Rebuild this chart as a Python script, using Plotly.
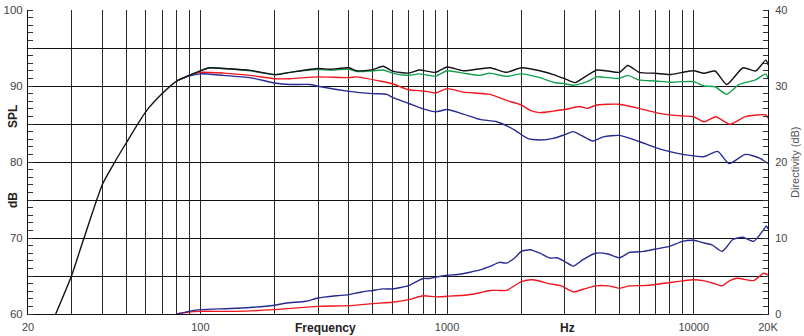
import plotly.graph_objects as go

# ---- data ----
f_on = [25.9, 30, 33.5, 40, 43.7, 50, 60, 70, 80, 90, 100, 109, 124, 159, 200, 231, 300, 335, 400, 430, 500,
        551, 600, 700, 770, 900, 1000, 1163, 1492, 1742, 2000, 2379, 2693, 3000, 3300, 3700, 4050, 4490, 5000,
        5400, 6000, 7000, 8000, 9000, 10000, 11000, 12200, 13600, 15850, 17800, 19600, 20000]
spl_on = [60, 65, 69.7, 77.0, 79.3, 82.5, 86.6, 89.0, 90.65, 91.4, 92.0, 92.4, 92.3, 92.06, 91.5, 91.8, 92.3,
          92.2, 92.4, 92.0, 92.15, 92.6, 91.96, 91.7, 92.1, 91.8, 92.5, 92.0, 92.4, 91.8, 92.4, 92.0, 91.5, 90.96,
          90.45, 91.4, 92.1, 91.97, 91.8, 92.7, 91.8, 91.67, 91.5, 91.8, 92.0, 91.67, 91.97, 90.2, 92.4, 91.97,
          93.4, 92.8]

f_green = [80, 90, 100, 109, 124, 159, 200, 231, 300, 335, 400, 430, 500, 551, 600, 700, 770, 900, 1000, 1163, 1360,
           1492, 1742, 2000, 2379, 2693, 3000, 3250, 3700, 4050, 4490, 5000, 5400, 6000, 7000, 8000, 9000, 10000,
           11000, 12200, 13600, 15300, 17800, 19600, 20000]
spl_green = [90.65, 91.4, 92.0, 92.4, 92.3, 92.0, 91.5, 91.8, 92.15, 92.1, 92.2, 91.9, 92.0, 92.1, 91.7, 91.4, 91.6,
             91.3, 92.0, 91.7, 91.4, 91.7, 91.26, 91.6, 91.1, 90.5, 90.3, 90.1, 90.57, 91.2, 91.1, 91.0, 91.4, 90.8,
             90.66, 90.5, 90.57, 90.57, 90.0, 89.9, 88.9, 90.2, 90.8, 91.6, 91.0]

f_red = [80, 90, 100, 124, 159, 200, 231, 300, 400, 430, 534, 600, 700, 800, 900, 1000, 1163, 1492, 1742, 2000,
         2170, 2379, 2693, 3000, 3440, 3700, 4050, 4490, 5000, 6000, 7000, 8000, 9000, 10000, 11000, 12300, 14000,
         16200, 19600, 20000]
spl_red = [90.65, 91.4, 91.8, 91.7, 91.4, 90.96, 90.96, 91.2, 91.1, 91.2, 90.65, 90.3, 89.5, 89.35, 89.1, 89.65,
           89.2, 88.9, 88.1, 87.5, 86.8, 86.5, 86.7, 86.9, 87.3, 87.06, 87.5, 87.6, 87.6, 87.06, 86.5, 86.2, 86.05,
           85.96, 85.3, 85.96, 84.96, 85.96, 86.2, 85.75]

f_blue = [80, 90, 100, 124, 159, 200, 231, 278, 300, 400, 500, 570, 600, 700, 800, 900, 1000, 1163, 1360, 1590, 1880,
          2120, 2379, 2693, 3000, 3247, 3500, 3900, 4300, 5000, 6000, 7000, 8000, 9000, 10000, 11000, 12500, 13900,
          16200, 18500, 20000]
spl_blue = [90.65, 91.3, 91.6, 91.4, 91.1, 90.4, 90.2, 90.2, 89.96, 89.3, 89.0, 88.9, 88.5, 87.7, 87.0, 86.6, 86.9,
            86.3, 85.6, 85.3, 84.2, 83.1, 82.9, 83.1, 83.6, 84.0, 83.5, 82.76, 83.3, 83.5, 82.7, 81.9, 81.36, 81.0,
            80.8, 80.7, 81.4, 79.8, 81.0, 80.5, 79.8]

f_di_blue = [80, 90, 100, 140, 200, 224, 267, 300, 357, 400, 449, 500, 550, 600, 700, 755, 800, 850, 900, 1000,
             1100, 1240, 1360, 1490, 1630, 1742, 1880, 2000, 2170, 2380, 2620, 2790, 3000, 3250, 3570, 4000, 4490,
             5000, 5500, 6250, 7000, 8000, 9000, 10000, 11000, 11850, 13000, 13500, 14400, 15800, 17500, 19200,
             19700, 20000]
di_blue = [0, 0.35, 0.57, 0.75, 1.15, 1.45, 1.67, 2.1, 2.4, 2.55, 2.9, 3.1, 3.3, 3.3, 3.74, 4.3, 4.67, 4.67,
           4.85, 5.1, 5.2, 5.5, 5.8, 6.26, 6.8, 6.7, 7.36, 8.24, 8.46, 8.0, 7.36, 7.4, 6.9, 6.3, 7.2, 8.0, 7.9, 7.4,
           8.1, 8.24, 8.55, 8.9, 9.56, 9.7, 9.34, 9.1, 8.24, 8.7, 9.8, 10.1, 9.56, 11.1, 11.6, 11.2]

f_di_red = [80, 90, 100, 140, 200, 300, 400, 500, 600, 700, 800, 900, 1000, 1200, 1360, 1490, 1630, 1742, 2000, 2230,
            2620, 2900, 3250, 3570, 4000, 4490, 5000, 5500, 6250, 7000, 8000, 9000, 10000, 11000, 12000, 13000,
            14000, 15000, 17500, 19200, 20000]
di_red = [0, 0.26, 0.35, 0.35, 0.57, 1.0, 1.1, 1.37, 1.54, 1.9, 2.4, 2.25, 2.33, 2.5, 2.8, 3.1, 3.1, 3.1, 4.27, 4.5,
          3.96, 3.7, 2.9, 3.26, 3.7, 3.7, 3.4, 3.7, 3.74, 3.88, 4.14, 4.36, 4.5, 4.36, 4.05, 3.7, 4.4, 4.7, 4.4,
          5.37, 5.15]

grid_freqs = [20, 30, 40, 50, 60, 70, 80, 90, 100, 200, 300, 400, 500, 600, 700, 800, 900,
              1000, 2000, 3000, 4000, 5000, 6000, 7000, 8000, 9000, 10000, 20000]
x_labels = {20: "20", 100: "100", 1000: "1000", 10000: "10000", 20000: "20K"}
spl_ticks = [60, 65, 70, 75, 80, 85, 90, 95, 100]
di_ticks = [0, 10, 20, 30, 40]

# ---- figure ----
fig = go.Figure()
lw = 1.4
sm = 0.6
fig.add_trace(go.Scatter(x=f_di_red, y=di_red, yaxis="y2", mode="lines",
                         line=dict(color="#f0161e", width=lw, shape="spline", smoothing=sm)))
fig.add_trace(go.Scatter(x=f_di_blue, y=di_blue, yaxis="y2", mode="lines",
                         line=dict(color="#262a92", width=lw, shape="spline", smoothing=sm)))
fig.add_trace(go.Scatter(x=f_blue, y=spl_blue, mode="lines",
                         line=dict(color="#262a92", width=lw, shape="spline", smoothing=sm)))
fig.add_trace(go.Scatter(x=f_red, y=spl_red, mode="lines",
                         line=dict(color="#f0161e", width=lw, shape="spline", smoothing=sm)))
fig.add_trace(go.Scatter(x=f_green, y=spl_green, mode="lines",
                         line=dict(color="#12a04e", width=lw, shape="spline", smoothing=sm)))
fig.add_trace(go.Scatter(x=f_on, y=spl_on, mode="lines",
                         line=dict(color="#15111a", width=lw, shape="spline", smoothing=sm)))

font = "Liberation Sans, Arial, sans-serif"
fig.update_layout(
    width=804, height=336,
    margin=dict(l=28, r=36, t=10, b=22, autoexpand=False),
    paper_bgcolor="white", plot_bgcolor="white",
    showlegend=False,
    font=dict(family=font, size=11, color="#444"),
    xaxis=dict(type="log", range=[1.30103, 4.30103], automargin=False,
               tickmode="array", tickvals=grid_freqs,
               ticktext=[x_labels.get(f, "") for f in grid_freqs],
               showgrid=True, gridcolor="#2a2a2a", gridwidth=1,
               showline=True, linecolor="#111", linewidth=1,
               ticks="", zeroline=False, ticklabelstandoff=3,
               tickfont=dict(size=11, color="#444")),
    yaxis=dict(range=[60, 100], tickmode="array", tickvals=spl_ticks, automargin=False,
               ticktext=[str(v) if v % 10 == 0 else "" for v in spl_ticks],
               showgrid=True, gridcolor="#111", gridwidth=1,
               showline=True, linecolor="#111", linewidth=1,
               ticks="", zeroline=False, ticklabelstandoff=2,
               minor=dict(tickmode="linear", tick0=60, dtick=1, ticks="inside",
                          ticklen=5, tickcolor="#333", showgrid=False),
               tickfont=dict(size=11.5, color="#444")),
    yaxis2=dict(range=[0, 40], overlaying="y", side="right", tickmode="array", automargin=False,
                tickvals=di_ticks, ticktext=[str(v) for v in di_ticks],
                showgrid=False, showline=True, linecolor="#111", linewidth=1,
                ticks="", zeroline=False, ticklabelstandoff=4,
                minor=dict(tickmode="linear", tick0=0, dtick=1, ticks="inside",
                           ticklen=5, tickcolor="#333", showgrid=False),
                tickfont=dict(size=11, color="#444")),
)

anns = [
    dict(text="<b>Frequency</b>", x=325, y=328, size=12, angle=0, color="#222"),
    dict(text="<b>Hz</b>", x=567, y=328, size=12, angle=0, color="#222"),
    dict(text="<b>SPL</b>", x=13, y=117, size=12, angle=-90, color="#222"),
    dict(text="<b>dB</b>", x=13, y=200, size=12, angle=-90, color="#222"),
    dict(text="Directivity (dB)", x=795, y=162, size=11, angle=-90, color="#555"),
]
for a in anns:
    fig.add_annotation(text=a["text"], xref="paper", yref="paper",
                       x=(a["x"] - 28) / 740, y=(314 - a["y"]) / 304,
                       xanchor="center", yanchor="middle", showarrow=False,
                       textangle=a["angle"],
                       font=dict(family=font, size=a["size"], color=a["color"]))

fig.write_html("out.html", config={"displayModeBar": False},
               post_script="document.body.style.margin='0';document.body.style.padding='0';")
